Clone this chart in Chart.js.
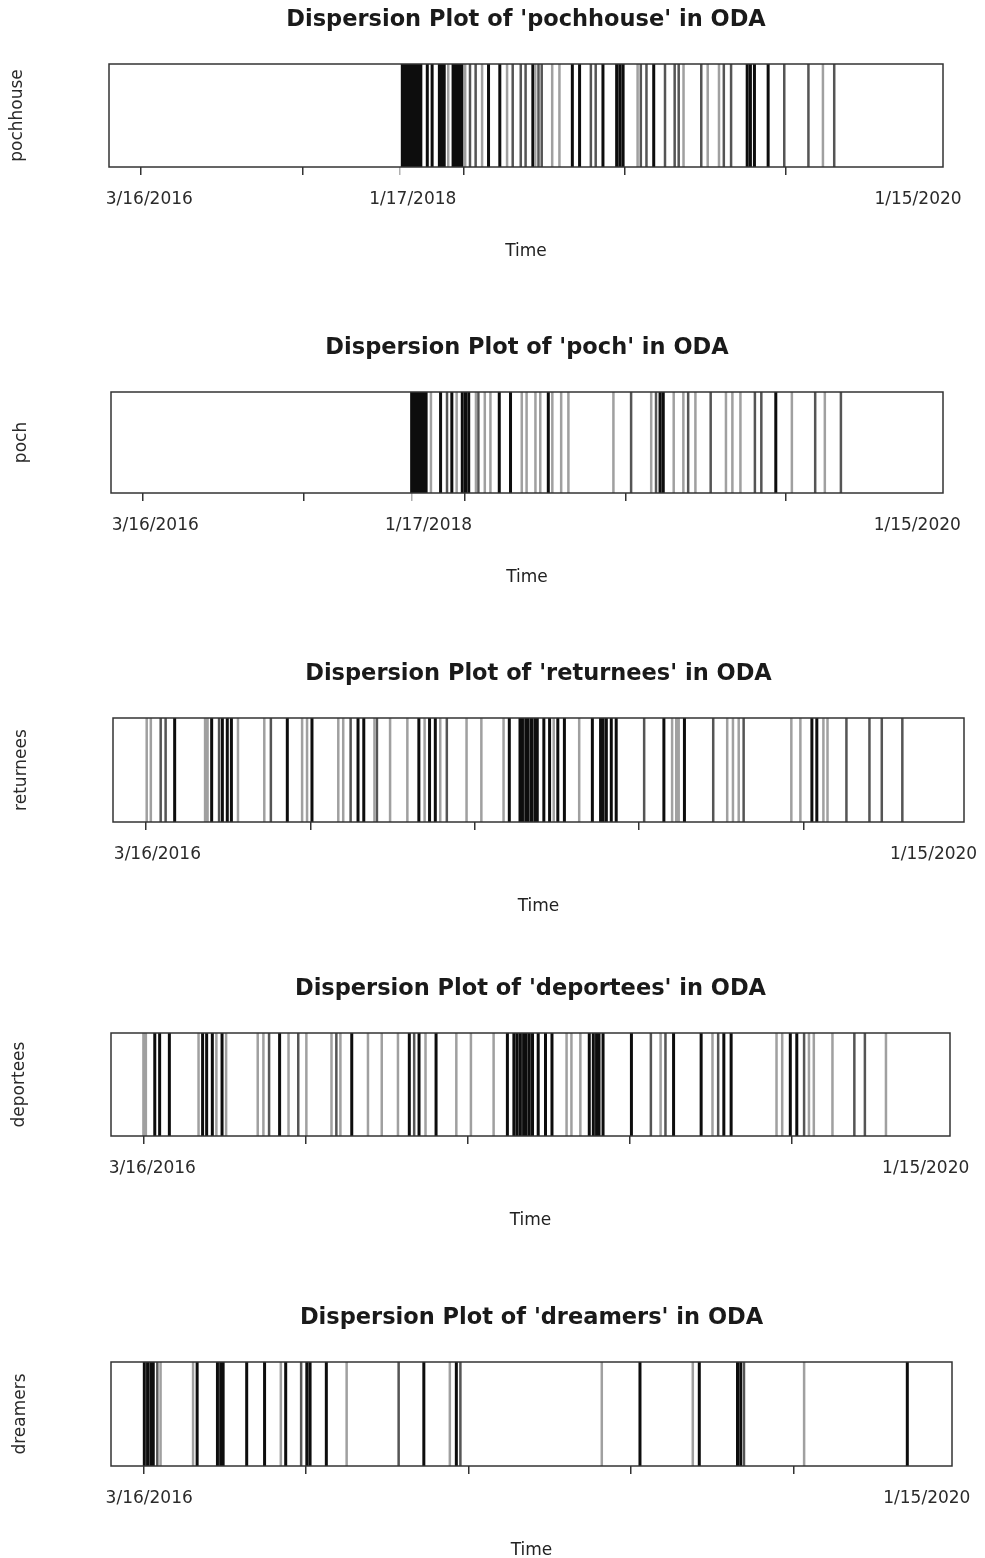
<!DOCTYPE html>
<html><head><meta charset="utf-8">
<script src="https://cdn.jsdelivr.net/npm/chart.js@4.4.1/dist/chart.umd.min.js"></script>
<style>
html,body{margin:0;padding:0;background:#fff;}
#wrap{position:relative;width:985px;height:1558px;overflow:hidden;background:#fff;}
canvas{position:absolute;left:0;}
</style></head><body><div id="wrap"></div>
<script>
// x values: document index along the ODA timeline (0 = 3/16/2016 ... ~960 = 1/15/2020)
const majorTicks = [0, 200, 400, 600, 800];

const pochhouseDark  = [324, 327, 330, 333, 336, 339, 342, 345, 347, 355, 361, 370, 373, 376, 387, 390, 393, 396, 398, 431, 445, 486, 535, 544, 573, 590, 594, 598, 636, 752, 756, 761, 778];
const pochhouseMid   = [408, 415, 461, 471, 477, 493, 497, 558, 564, 620, 627, 650, 662, 667, 695, 723, 732, 798, 828, 860];
const pochhouseLight = [381, 402, 423, 454, 489, 510, 519, 616, 673, 703, 717, 846];

const pochDark  = [334, 337, 340, 343, 346, 349, 352, 370, 384, 397, 401, 405, 443, 457, 504, 643, 647, 787];
const pochMid   = [378, 417, 607, 638, 678, 706, 761, 769, 836, 868];
const pochLight = [358, 390, 414, 425, 432, 471, 477, 488, 494, 509, 520, 529, 585, 632, 660, 672, 687, 725, 733, 743, 807, 848];

const returneesDark  = [35, 80, 93, 99, 104, 172, 202, 258, 265, 332, 345, 352, 442, 455, 458, 462, 465, 469, 473, 476, 484, 491, 501, 509, 543, 553, 556, 560, 566, 572, 630, 655, 810, 816];
const returneesMid   = [18, 24, 89, 152, 249, 281, 366, 606, 690, 727, 852, 880, 895, 920];
const returneesLight = [1, 6, 72, 75, 112, 144, 190, 196, 234, 240, 278, 297, 318, 339, 358, 390, 408, 435, 496, 527, 640, 645, 648, 707, 714, 721, 785, 796, 824, 829];

const deporteesDark  = [14, 20, 32, 73, 78, 85, 97, 168, 257, 328, 340, 361, 449, 457, 461, 465, 469, 472, 476, 480, 487, 496, 504, 550, 555, 559, 562, 567, 602, 654, 688, 716, 725, 798, 806];
const deporteesMid   = [155, 191, 238, 334, 626, 644, 709, 815, 877, 890];
const deporteesLight = [0, 3, 68, 90, 102, 141, 148, 179, 201, 232, 243, 277, 294, 314, 348, 386, 404, 432, 522, 528, 539, 638, 702, 781, 788, 821, 827, 850, 916];

const dreamersDark  = [1, 5, 9, 12, 66, 91, 95, 98, 127, 149, 175, 201, 205, 225, 345, 385, 611, 684, 731, 735, 940];
const dreamersMid   = [17, 194, 314, 390, 739];
const dreamersLight = [21, 61, 169, 250, 377, 564, 676, 813];

// date tick labels and where they sit on the index axis
const pochhouseDates = ['3/16/2016', '1/17/2018', '1/15/2020'];
const pochhouseDateAt = [10, 337, 964];
const pochhouseMarker = [321];
const pochDates = ['3/16/2016', '1/17/2018', '1/15/2020'];
const pochDateAt = [15, 355, 963];
const pochMarker = [334];
const returneesDates = ['3/16/2016', '1/15/2020'];
const returneesDateAt = [14, 958];
const deporteesDates = ['3/16/2016', '1/15/2020'];
const deporteesDateAt = [11, 965];
const dreamersDates = ['3/16/2016', '1/15/2020'];
const dreamersDateAt = [7, 964];

// layout (page pixels of each plot box)
const panels = [
  {term:'pochhouse', dark:pochhouseDark, mid:pochhouseMid, light:pochhouseLight, dates:pochhouseDates, at:pochhouseDateAt, marker:pochhouseMarker, box:{l:109,r:943,t:64,b:167}, yl:18},
  {term:'poch', dark:pochDark, mid:pochMid, light:pochLight, dates:pochDates, at:pochDateAt, marker:pochMarker, box:{l:111,r:943,t:392,b:493}, yl:22},
  {term:'returnees', dark:returneesDark, mid:returneesMid, light:returneesLight, dates:returneesDates, at:returneesDateAt, marker:[], box:{l:113,r:964,t:718,b:822}, yl:22},
  {term:'deportees', dark:deporteesDark, mid:deporteesMid, light:deporteesLight, dates:deporteesDates, at:deporteesDateAt, marker:[], box:{l:111,r:950,t:1033,b:1136}, yl:20},
  {term:'dreamers', dark:dreamersDark, mid:dreamersMid, light:dreamersLight, dates:dreamersDates, at:dreamersDateAt, marker:[], box:{l:111,r:952,t:1362,b:1466}, yl:21}
];

Chart.defaults.font.family = "'DejaVu Sans', sans-serif";
Chart.defaults.color = '#222';

function vlines(vals){
  const out = [];
  vals.forEach(v => { out.push({x:v, y:0}, {x:v, y:1}, {x:v, y:null}); });
  return out;
}

const boxPlugin = {
  id: 'boxBorder',
  afterDatasetsDraw(chart){
    const a = chart.chartArea, ctx = chart.ctx;
    ctx.save();
    ctx.strokeStyle = '#333';
    ctx.lineWidth = 1.5;
    ctx.strokeRect(a.left, a.top, a.right - a.left, a.bottom - a.top);
    ctx.restore();
  }
};

const wrap = document.getElementById('wrap');
const TITLE_SIZE = 22.5, AX_SIZE = 17;

panels.forEach(p => {
  const c = document.createElement('canvas');
  const top = p.box.t - 60;
  const h = p.box.b - p.box.t + 155;
  c.width = 985; c.height = h;
  c.style.top = top + 'px';
  c.style.width = '985px'; c.style.height = h + 'px';
  wrap.appendChild(c);
  const tickVals = majorTicks.concat(p.marker, p.at).sort((a, b) => a - b);
  const mk = (data, color, w) => ({data: vlines(data), showLine: true, borderColor: color, borderWidth: w, pointRadius: 0, spanGaps: false, fill: false});
  new Chart(c, {
    type: 'scatter',
    data: {datasets: [mk(p.light, '#a0a0a0', 2.5), mk(p.mid, '#555', 2.5), mk(p.dark, '#0d0d0d', 3)]},
    options: {
      responsive: false, animation: false,
      devicePixelRatio: 1,
      layout: {padding: {top: 60 - (TITLE_SIZE*1.2 + 44 - TITLE_SIZE*0.6), right: 985 - p.box.r, bottom: 0, left: 0}},
      plugins: {
        legend: {display: false}, tooltip: {enabled: false},
        title: {display: true, fullSize: false, text: "Dispersion Plot of '" + p.term + "' in ODA",
          color: '#1a1a1a', font: {size: TITLE_SIZE, weight: 'bold'},
          padding: {top: 0, bottom: 44 - TITLE_SIZE*0.6}}
      },
      scales: {
        x: {
          type: 'linear', position: 'bottom', min: -40, max: 995,
          afterBuildTicks: s => { s.ticks = tickVals.map(v => ({value: v})); },
          afterFit: s => { s.height = 95; s.paddingLeft = 0; s.paddingRight = 0; },
          ticks: {autoSkip: false, maxRotation: 0, minRotation: 0, padding: 14, color: '#2a2a2a', font: {size: AX_SIZE},
            callback: v => { const i = p.at.indexOf(v); return i >= 0 ? p.dates[i] : ''; }},
          grid: {drawOnChartArea: false, drawTicks: true, tickLength: 8, lineWidth: 1.5,
            tickColor: ctx => { const v = ctx.tick ? ctx.tick.value : null; if (p.at.includes(v)) return 'rgba(0,0,0,0)'; if (p.marker.includes(v)) return '#b0b0b0'; return '#333'; }},
          border: {display: false},
          title: {display: true, text: 'Time', color: '#222', font: {size: AX_SIZE}, padding: {top: 95 - 80 - AX_SIZE*0.6, bottom: 0}}
        },
        y: {
          min: 0, max: 1, position: 'left',
          afterFit: s => { s.width = p.box.l; s.paddingTop = 0; s.paddingBottom = 0; },
          ticks: {display: false}, grid: {display: false}, border: {display: false},
          title: {display: true, text: p.term, color: '#2a2a2a', font: {size: AX_SIZE}, padding: {top: p.yl - AX_SIZE*0.6, bottom: 0}}
        }
      }
    },
    plugins: [boxPlugin]
  });
});
</script></body></html>
